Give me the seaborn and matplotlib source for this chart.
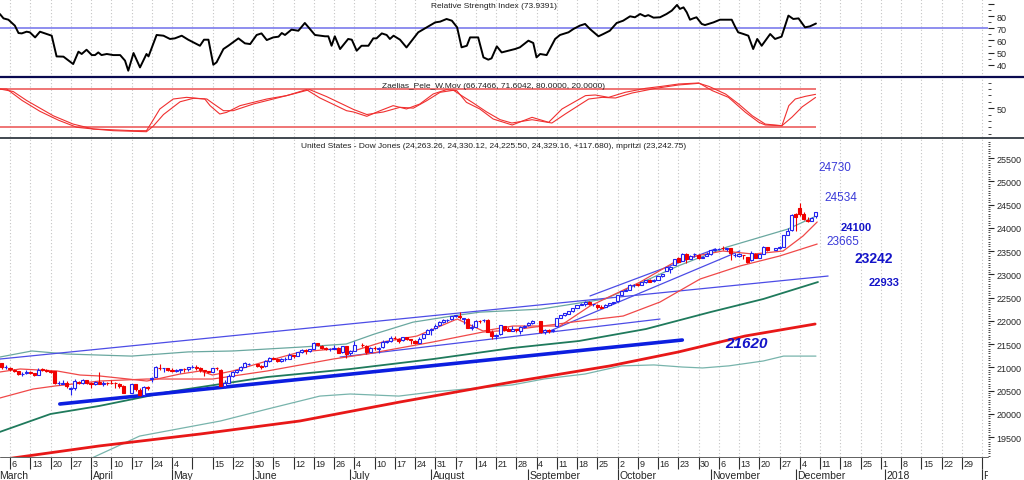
import numpy as np
import pandas as pd
import matplotlib
matplotlib.use("Agg")
import matplotlib.pyplot as plt
from matplotlib.lines import Line2D
import seaborn as sns

sns.set_style("white")
plt.rcParams['font.family'] = ['Liberation Sans', 'DejaVu Sans']

# ----------------- Data -----------------
# trading days Mar 1 - Dec 8 2017 (x = business-day count from Mon Mar 6)
holidays = ['2017-04-14', '2017-05-29', '2017-07-04', '2017-09-04', '2017-11-23']
dates = pd.bdate_range('2017-03-01', '2017-12-08')
dates = dates[~dates.isin(pd.to_datetime(holidays))]
day = np.busday_count(np.datetime64('2017-03-06'), dates.values.astype('datetime64[D]'))

opens = [21180, 21090, 20995,
         20990, 20940, 20920, 20850, 20880,
         20900, 20870, 20840, 20960, 20935,
         20915, 20910, 20660, 20650, 20660,
         20540, 20555, 20690, 20660, 20720,
         20660, 20640, 20690, 20645, 20660,
         20660, 20655, 20640, 20590,
         20455, 20630, 20520, 20405, 20580,
         20750, 20790, 20990, 20975, 20985,
         20945, 20915, 20945, 20960, 20955,
         21005, 21010, 20975, 20935, 20915,
         20900, 20985, 20950, 20600, 20665,
         20810, 20900, 20945, 21015, 21075,
         21070, 21030, 21020, 21140,
         21200, 21180, 21140, 21175, 21185,
         21260, 21245, 21335, 21380, 21355,
         21400, 21520, 21465, 21415, 21390,
         21400, 21415, 21320, 21450, 21300,
         21360, 21480, 21460, 21330,
         21410, 21400, 21430, 21540, 21560,
         21640, 21610, 21580, 21645, 21600,
         21570, 21530, 21620, 21720, 21800,
         21840, 21900, 21970, 22020, 22030,
         22100, 22110, 22040, 22040, 21850,
         21870, 22000, 22010, 22020, 21750,
         21670, 21710, 21890, 21815, 21790,
         21820, 21770, 21865, 21900, 21960,
         21990, 21760, 21810, 21790,
         21880, 22070, 22120, 22150, 22210,
         22280, 22340, 22370, 22410, 22350,
         22340, 22300, 22300, 22340, 22380,
         22420, 22560, 22650, 22670, 22760,
         22780, 22770, 22830, 22880, 22860,
         22880, 22960, 23070, 23110, 23200,
         23340, 23290, 23440, 23330, 23430,
         23420, 23350, 23400, 23440, 23520,
         23540, 23560, 23550, 23560, 23420,
         23400, 23420, 23380, 23300, 23440,
         23360, 23440, 23590, 23530,
         23560, 23590, 23850, 23950, 24300,
         24420, 24290, 24170, 24150, 24260]
highs = [21190, 21100, 21040,
         21000, 20960, 20930, 20900, 20940,
         20920, 20880, 20980, 20990, 20960,
         20940, 20930, 20700, 20730, 20700,
         20580, 20740, 20700, 20740, 20730,
         20690, 20700, 20890, 20700, 20690,
         20720, 20680, 20670, 20610,
         20650, 20640, 20560, 20600, 20590,
         20790, 21030, 21070, 20990, 20990,
         20980, 20960, 20960, 20990, 21010,
         21050, 21050, 21000, 20950, 20920,
         20990, 21000, 20960, 20720, 20860,
         20910, 20950, 21020, 21110, 21090,
         21080, 21040, 21150, 21230,
         21210, 21190, 21190, 21230, 21305,
         21270, 21330, 21390, 21385, 21390,
         21535, 21530, 21480, 21440, 21410,
         21480, 21430, 21460, 21460, 21370,
         21560, 21520, 21470, 21440,
         21460, 21430, 21580, 21570, 21680,
         21680, 21620, 21650, 21650, 21610,
         21580, 21650, 21720, 21830, 21840,
         21930, 21990, 22040, 22040, 22100,
         22130, 22180, 22060, 22050, 21920,
         22010, 22010, 22040, 22030, 21800,
         21710, 21910, 21890, 21870, 21880,
         21830, 21880, 21900, 21970, 22020,
         21990, 21830, 21820, 21830,
         22070, 22120, 22160, 22210, 22270,
         22340, 22380, 22420, 22420, 22370,
         22350, 22330, 22360, 22390, 22410,
         22560, 22650, 22690, 22780, 22780,
         22790, 22840, 22880, 22900, 22900,
         22960, 23000, 23160, 23170, 23330,
         23370, 23450, 23460, 23420, 23450,
         23430, 23400, 23480, 23530, 23560,
         23560, 23600, 23570, 23560, 23460,
         23450, 23420, 23380, 23490, 23450,
         23440, 23600, 23590, 23570,
         23610, 23840, 24000, 24300, 24320,
         24534, 24330, 24230, 24240, 24330]
lows = [21090, 20970, 20960,
        20930, 20900, 20840, 20820, 20860,
        20860, 20820, 20830, 20910, 20900,
        20880, 20650, 20610, 20630, 20560,
        20410, 20520, 20630, 20650, 20640,
        20550, 20620, 20630, 20590, 20610,
        20630, 20560, 20560, 20440,
        20450, 20480, 20380, 20380, 20520,
        20690, 20780, 20950, 20890, 20930,
        20890, 20900, 20880, 20900, 20930,
        20980, 20950, 20900, 20820, 20880,
        20890, 20950, 20600, 20550, 20660,
        20800, 20880, 20930, 21000, 21040,
        21000, 20960, 21010, 21120,
        21170, 21110, 21120, 21140, 21180,
        21200, 21240, 21300, 21290, 21330,
        21390, 21460, 21390, 21370, 21340,
        21390, 21300, 21310, 21200, 21270,
        21350, 21430, 21280, 21320,
        21380, 21310, 21420, 21520, 21550,
        21600, 21520, 21570, 21590, 21500,
        21500, 21520, 21610, 21710, 21700,
        21820, 21890, 21950, 21980, 22020,
        22080, 22040, 21920, 21840, 21800,
        21860, 21960, 21980, 21750, 21600,
        21600, 21700, 21780, 21770, 21780,
        21760, 21720, 21850, 21890, 21940,
        21730, 21720, 21740, 21760,
        21870, 22050, 22100, 22140, 22190,
        22270, 22330, 22320, 22330, 22320,
        22250, 22270, 22290, 22330, 22370,
        22410, 22550, 22630, 22660, 22720,
        22740, 22760, 22810, 22840, 22840,
        22870, 22950, 23060, 23020, 23190,
        23270, 23280, 23240, 23330, 23370,
        23330, 23340, 23390, 23420, 23500,
        23520, 23530, 23500, 23300, 23380,
        23380, 23320, 23240, 23290, 23350,
        23350, 23430, 23510, 23530,
        23540, 23580, 23850, 23940, 23920,
        24260, 24160, 24120, 24140, 24220]
closes = [21116, 21003, 21006,
          20954, 20924, 20855, 20858, 20903,
          20881, 20837, 20950, 20934, 20915,
          20906, 20669, 20661, 20656, 20597,
          20551, 20701, 20659, 20729, 20663,
          20650, 20689, 20648, 20663, 20656,
          20658, 20651, 20592, 20453,
          20637, 20523, 20404, 20579, 20548,
          20763, 20997, 20975, 20982, 20941,
          20913, 20950, 20957, 20952, 21007,
          21013, 20975, 20943, 20919, 20897,
          20982, 20980, 20607, 20663, 20805,
          20895, 20938, 21012, 21083, 21080,
          21029, 21009, 21144, 21206,
          21184, 21136, 21174, 21182, 21272,
          21236, 21328, 21375, 21360, 21384,
          21528, 21468, 21410, 21397, 21395,
          21410, 21311, 21454, 21288, 21350,
          21479, 21479, 21320, 21415,
          21409, 21409, 21533, 21554, 21638,
          21630, 21575, 21641, 21611, 21580,
          21513, 21613, 21711, 21797, 21830,
          21891, 21964, 22016, 22026, 22092,
          22118, 22085, 22049, 21844, 21858,
          21994, 21999, 22025, 21750, 21675,
          21704, 21899, 21812, 21783, 21814,
          21809, 21865, 21892, 21948, 21988,
          21754, 21807, 21784, 21798,
          22057, 22119, 22159, 22203, 22268,
          22331, 22370, 22412, 22359, 22350,
          22296, 22284, 22341, 22381, 22405,
          22557, 22642, 22661, 22775, 22774,
          22762, 22831, 22873, 22841, 22872,
          22957, 22997, 23158, 23163, 23329,
          23274, 23441, 23330, 23401, 23435,
          23349, 23377, 23436, 23517, 23539,
          23549, 23557, 23563, 23462, 23422,
          23440, 23409, 23272, 23458, 23358,
          23431, 23591, 23526, 23558,
          23580, 23836, 23940, 24272, 24232,
          24290, 24180, 24141, 24212, 24329]

# RSI line
rsi_day = [-2.5, -1.6, -0.4, 1.2, 2.1, 2.9, 4.1, 4.9, 6.2, 7.4, 8.6, 10.3, 11.5, 13.2, 15.6, 16.9,
           17.7, 18.9, 20.2, 21.0, 21.8, 22.6, 23.9, 25.5, 27.2, 28.4, 29.2, 30.5, 32.1, 33.7, 34.2,
           36.2, 37.9, 39.5, 40.7, 42.4, 44.0, 46.9, 47.9, 49.0, 50.2, 51.0, 52.7, 53.9, 56.4, 58.0,
           59.3, 60.9, 62.1, 63.4, 65.0, 66.3, 67.1, 67.9, 69.5, 71.2, 72.8, 73.7, 75.3, 77.8, 78.6,
           79.4, 80.2, 81.5, 83.5, 84.4, 85.6, 86.8, 88.5, 89.7, 90.5, 91.8, 93.0, 93.8, 94.7, 96.3,
           97.9, 99.2, 100.8, 102.5, 105.0, 106.2, 107.8, 109.1, 110.4, 111.5, 112.8, 113.6, 115.6,
           116.9, 118.1, 118.9, 120.2, 121.4, 123.0, 124.7, 125.9, 128.0, 129.2, 130.0, 130.9, 132.5,
           134.6, 135.8, 137.9, 139.1, 140.7, 142.0, 143.2, 145.3, 146.5, 148.1, 149.8, 151.4, 153.1,
           154.3, 155.6, 156.8, 157.6, 158.9, 160.5, 162.1, 163.4, 164.7, 165.4, 166.3, 167.1, 167.9,
           168.7, 169.5, 170.8, 171.6, 173.7, 175.3, 176.5, 178.2, 179.0, 179.8, 181.1, 182.3, 183.5,
           184.5, 185.6, 187.7, 188.9, 190.5, 192.2, 193.4, 194.7, 196.3, 197.5, 199.0]
rsi_val = [81.8, 78.2, 77.1, 72.2, 66.1, 65.8, 67.2, 66.7, 62.5, 67.2, 65.8, 63.9, 46.8, 46.6, 40.5, 50.7,
           48.8, 52.3, 47.9, 47.9, 50.1, 47.9, 48.8, 47.9, 47.9, 43.3, 35.0, 49.6, 37.7, 48.8, 46.8,
           64.5, 63.9, 61.2, 61.7, 63.9, 60.6, 55.6, 60.6, 60.6, 39.9, 41.9, 52.9, 55.6, 61.7, 57.6,
           57.0, 64.5, 65.8, 60.3, 62.5, 63.1, 66.1, 64.5, 68.9, 68.0, 74.4, 70.8, 64.5, 63.4, 63.4,
           55.6, 63.4, 52.9, 61.2, 60.6, 51.5, 55.6, 55.6, 61.7, 61.7, 65.8, 64.5, 61.2, 63.9, 60.6,
           54.2, 59.8, 66.7, 70.0, 74.9, 75.5, 77.7, 76.3, 70.8, 54.3, 55.6, 62.5, 62.5,
           46.0, 44.1, 45.2, 55.1, 50.1, 51.5, 52.9, 54.3, 59.8, 57.9, 46.0, 48.8, 47.9,
           61.2, 64.5, 66.7, 69.4, 72.2, 73.6, 69.4, 63.4, 65.3, 68.0, 74.4, 76.3, 79.9,
           79.1, 81.8, 79.9, 80.9, 78.8, 79.1, 81.8, 84.6, 89.3, 86.0, 87.3, 83.2, 77.1,
           78.2, 79.1, 73.6, 72.7, 74.9, 77.1, 77.1, 77.1, 71.6, 66.7, 65.3, 63.9, 52.9,
           61.2, 55.6, 65.3, 61.2, 63.1, 80.5, 77.7, 78.2, 70.8, 71.6, 73.94]

# stochastic (two lines)
stk_fast_day = [-2.5, -0.8, 3.0, 7.4, 12.0, 16.5, 20.6, 30.5, 33.7, 35.0, 37.0, 40.3, 43.6, 48.1, 49.4,
                51.8, 53.5, 56.8, 60.1, 63.4, 68.3, 73.2, 76.5, 79.8, 83.1, 84.8, 88.1, 91.4, 94.6,
                97.9, 101.2, 104.5, 107.8, 110.3, 112.7, 116.0, 119.3, 124.0, 128.9, 133.0, 136.3,
                142.1, 144.5, 147.8, 151.9, 156.9, 161.0, 165.1, 170.1, 173.4, 177.4, 181.6, 184.9,
                186.5, 190.6, 192.3, 193.9, 196.4, 198.9]
stk_fast_val = [80, 80, 62, 45, 31, 20, 17.3, 14.7, 14.7, 27.8, 48.7, 64.3, 66.9, 64.3, 53.9,
                40.8, 43.4, 53.9, 59.1, 64.3, 69.6, 79.0, 66, 56, 46, 44, 37.2, 46.0, 53.9,
                48.7, 56.5, 72.2, 79.0, 77.4, 59.1, 48.7, 33.0, 23.6, 35.6, 27.8, 48.7,
                69.6, 70.6, 66.9, 74.8, 81.0, 84.2, 87.8, 89.4, 77.4, 66.9, 43.4, 27.8,
                23.6, 22.5, 53.9, 64.3, 68.5, 71.6042]
stk_slow_day = [-2.5, 0.8, 4.1, 7.4, 10.7, 15.6, 20.6, 25.5, 33.7, 35.4, 37.9, 42.0, 45.3, 48.6, 50.2,
                52.7, 55.1, 60.1, 65.0, 69.9, 74.0, 78.2, 81.5, 84.8, 88.1, 92.2, 96.3, 99.6, 102.9,
                106.2, 109.5, 111.9, 114.4, 117.7, 121.0, 123.9, 128.9, 133.8, 137.1, 142.9, 146.2,
                149.5, 153.6, 159.4, 165.1, 170.1, 172.6, 176.7, 180.0, 183.3, 186.5, 190.6, 193.1,
                195.6, 198.9]
stk_slow_val = [80, 76, 62, 50, 38, 25, 17.3, 14.7, 13.1, 22, 40, 60, 65.4, 64.3, 57,
                46, 46.0, 56.5, 64.3, 72.2, 79.0, 68, 58, 48, 40, 44, 51.3, 50, 61.7,
                74.8, 78, 68, 58, 44, 32, 26.7, 31.9, 26.7, 40.8, 64.3, 66.9,
                65.9, 73.7, 81.0, 86.3, 88.9, 84, 72, 56, 38, 25, 22.5, 36,
                52, 66.7466]
stk_levels = [80, 20]

# moving averages / bands
ma_short_day = [-2.5, 2.5, 11.6, 17.3, 22.2, 33.8, 36.3, 42.0, 47.0, 50.0, 55.0, 63.5, 71.6, 79.8, 84.0,
                92.0, 100.5, 110.4, 116.8, 124.2, 135.8, 143.2, 155.6, 165.4, 176.0, 183.5, 190.9, 195.8, 199.3]
ma_short_val = [20898, 20963, 20920, 20833, 20812, 20704, 20747, 20855, 20920, 20833, 20920, 21135, 21328,
                21392, 21328, 21543, 21672, 22038, 21780, 21887, 21887, 22317, 22833, 23328, 23500, 23435,
                23500, 23822, 24124]
ma_mid_day = [-2.5, 5.7, 11.1, 22.2, 33.8, 50.0, 63.5, 79.8, 88.1, 104.4, 116.8, 124.0, 139.0, 151.4,
              160.5, 170.4, 180.2, 190.0, 199.3]
ma_mid_val = [20339, 20532, 20597, 20704, 20747, 20747, 20920, 21177, 21285, 21543, 21758, 21801, 21973,
              22102, 22403, 22898, 23177, 23392, 23650]
ma_green_day = [-2.5, 10, 22, 39, 63.5, 84, 104.5, 124, 140.5, 157, 173, 186, 199.5]
ma_green_val = [19610, 19995, 20167, 20468, 20790, 20962, 21177, 21414, 21565, 21822, 22188, 22468, 22833]
ma_long_day = [-2.5, 22, 47, 71.6, 96.3, 124, 148, 165, 181.5, 198.8]
ma_long_val = [19010, 19307, 19565, 19845, 20253, 20683, 21027, 21328, 21672, 21930]
band_up_day = [-2.5, 5.4, 14, 30, 44, 55, 72, 83, 90, 99.5, 109, 116, 131, 147, 165, 177, 192, 199]
band_up_val = [21220, 21350, 21285, 21240, 21330, 21350, 21435, 21500, 21715, 21970, 22100, 22185,
               22250, 22470, 23180, 23585, 23970, 24250]
band_low_day = [19, 32, 52, 63.5, 76.5, 84, 96, 104.5, 124, 132, 142, 151, 159, 166, 171, 177.5, 186, 191, 199]
band_low_val = [19000, 19520, 19845, 20100, 20380, 20425, 20380, 20470, 20620, 20750, 20855, 21030,
                21050, 21005, 20985, 21030, 21135, 21240, 21240]

# trendlines (two end points each)
chan_up = ([-2.5, 202], [21177, 22962])
chan_low = ([81.5, 160.5], [21220, 22037])
steep_a = ([133.3, 180.2], [21780, 23500])
steep_b = ([143.2, 174.1], [22533, 23543])
thick_trend = ([12.3, 166], [20210, 21586])

# level labels on the right
levels = [('24730', 199.5, 25306, 'normal', 8.5), ('24534', 201.2, 24661, 'normal', 8.5),
          ('24100', 205.0, 24027, 'bold', 8), ('23665', 201.7, 23726, 'normal', 8.5),
          ('23242', 208.4, 23360, 'bold', 10), ('22933', 212.1, 22823, 'bold', 8)]

week_labels = ['6', '13', '20', '27', '3', '10', '17', '24', '4', '', '15', '22', '30', '5', '12', '19',
               '26', '4', '10', '17', '24', '31', '7', '14', '21', '28', '4', '11', '18', '25', '2', '9',
               '16', '23', '30', '6', '13', '20', '27', '4', '11', '18', '25', '1', '8', '15', '22', '29', '']
month_day = [-3, 20, 40, 60, 84, 104, 128, 150, 173, 194, 216, 240]
month_labels = ['March', 'April', 'May', 'June', 'July', 'August', 'September', 'October',
                'November', 'December', '2018', 'February']

# ----------------- Layout -----------------
W, H = 1024, 481
XMIN, XMAX = -10 / 4.05, (988 - 10) / 4.05
AXW = 988 / W
week_pos = np.arange(len(week_labels)) * 5
grid_kw = dict(color='#c4c4c4', linestyle=(0, (1, 2)), linewidth=0.8)

fig = plt.figure(figsize=(W / 100, H / 100), dpi=100)


def panel(top, bottom):
    ax = fig.add_axes([0, 1 - bottom / H, AXW, (bottom - top) / H])
    ax.set_xlim(XMIN, XMAX)
    ax.set_xticks(week_pos)
    ax.tick_params(axis='x', length=0, labelbottom=False)
    ax.grid(True, axis='x', **grid_kw)
    ax.set_axisbelow(True)
    for s in ax.spines.values():
        s.set_visible(False)
    ax.yaxis.tick_right()
    ax.tick_params(axis='y', which='major', length=4, width=0.8, pad=2, labelsize=6.5, direction='out')
    ax.tick_params(axis='y', which='minor', length=2, width=0.6, direction='out')
    return ax


# RSI
ax_rsi = panel(0, 78)
ax_rsi.axhline(70, color='#7c7cec', lw=1.2)
sns.lineplot(x=rsi_day, y=rsi_val, ax=ax_rsi, color='black', linewidth=1.4)
ax_rsi.set_ylim(29.8, 94.2)
ax_rsi.set_yticks([40, 50, 60, 70, 80, 90])
ax_rsi.set_yticklabels(['40', '50', '60', '70', '80', ''])
ax_rsi.set_yticks([45, 55, 65, 75, 85], minor=True)
ax_rsi.set_xlabel('')
ax_rsi.set_ylabel('')

# stochastic
ax_st = panel(79, 138)
ax_st.hlines(stk_levels, XMIN, 199, color='#ee6a6a', lw=1.3)
sns.lineplot(x=stk_fast_day, y=stk_fast_val, ax=ax_st, color='#f03030', linewidth=0.8)
sns.lineplot(x=stk_slow_day, y=stk_slow_val, ax=ax_st, color='#f03030', linewidth=0.8)
ax_st.set_ylim(4.8, 97.2)
ax_st.set_yticks([50])
ax_st.set_yticks([10, 20, 30, 40, 60, 70, 80, 90], minor=True)
ax_st.set_xlabel('')
ax_st.set_ylabel('')

# price
ax = panel(140, 458)
ax.set_ylim(19070, 25909)
ax.set_yticks(np.arange(19500, 25501, 500))
ax.set_yticks(np.arange(19100, 25900, 50), minor=True)
ax.tick_params(axis='y', which='minor', length=1.5)

sns.lineplot(x=band_low_day, y=band_low_val, ax=ax, color='#78b4ac', linewidth=0.9)
sns.lineplot(x=ma_long_day, y=ma_long_val, ax=ax, color='#e81818', linewidth=2.0)
sns.lineplot(x=ma_green_day, y=ma_green_val, ax=ax, color='#1f7a5c', linewidth=1.3)
sns.lineplot(x=thick_trend[0], y=thick_trend[1], ax=ax, color='#0c1ee0', linewidth=2.6)
sns.lineplot(x=band_up_day, y=band_up_val, ax=ax, color='#6aa8a0', linewidth=0.9)
for line in (chan_up, chan_low, steep_a, steep_b):
    sns.lineplot(x=line[0], y=line[1], ax=ax, color='#4c4ce6', linewidth=0.9)
sns.lineplot(x=ma_mid_day, y=ma_mid_val, ax=ax, color='#f04848', linewidth=0.9)
sns.lineplot(x=ma_short_day, y=ma_short_val, ax=ax, color='#f04848', linewidth=0.9)

# candles
o = np.array(opens, float)
c = np.array(closes, float)
hi = np.array(highs, float)
lo = np.array(lows, float)
up = c >= o
blue, red = '#2222f0', '#f00000'
ax.vlines(day, lo, hi, colors=np.where(up, blue, red), lw=0.8, zorder=4)
body_lo = np.minimum(o, c)
body_h = np.abs(c - o)
ax.bar(day[up], body_h[up], bottom=body_lo[up], width=0.75, facecolor='white',
       edgecolor=blue, linewidth=0.8, zorder=5)
ax.bar(day[~up], body_h[~up], bottom=body_lo[~up], width=0.75, facecolor=red,
       edgecolor=red, linewidth=0.8, zorder=5)

for txt, xd, yv, wt, fs in levels:
    ax.text(xd, yv, txt, color='#3a3ad8' if wt == 'normal' else '#1414c8', fontsize=fs,
            fontweight=wt, ha='left', va='center')
ax.text(176.5, 21532, '21620', color='#1414c8', fontsize=11, fontweight='bold',
        fontstyle='italic', ha='left', va='center')
ax.set_xlabel('')
ax.set_ylabel('')

# date strip
ax_d = fig.add_axes([0, 0, AXW, 23 / H])
ax_d.set_xlim(XMIN, XMAX)
ax_d.set_ylim(0, 2)
ax_d.axis('off')
ax_d.vlines(week_pos, 1, 2, color='#303030', lw=0.8)
ax_d.vlines(month_day, 0, 1, color='#303030', lw=0.8)
for p, lab in zip(week_pos, week_labels):
    ax_d.text(p + 0.4, 1.45, lab, fontsize=6.5, ha='left', va='center', clip_on=True)
for p, lab in zip(month_day, month_labels):
    ax_d.text(p + 0.4, 0.45, lab, fontsize=7.5, ha='left', va='center', clip_on=True)

# divider lines and titles
fig.add_artist(Line2D([0, 1], [1 - 78 / H] * 2, transform=fig.transFigure, color='#0a0a50', lw=1.6))
fig.add_artist(Line2D([0, 1], [1 - 139 / H] * 2, transform=fig.transFigure, color='#404850', lw=1.4))
fig.add_artist(Line2D([0, AXW], [1 - 458 / H] * 2, transform=fig.transFigure, color='#606060', lw=0.7))

title_kw = dict(fontsize=6, ha='center', va='center', color='#202020')
fig.text(494 / W, 1 - 7 / H, 'Relative Strength Index (73.9391)', **title_kw)
fig.text(494 / W, 1 - 86 / H, 'Zaelias_Pele_W.Mov (66.7466, 71.6042, 80.0000, 20.0000)', **title_kw)
fig.text(494 / W, 1 - 147 / H,
         'United States - Dow Jones (24,263.26, 24,330.12, 24,225.50, 24,329.16, +117.680), mpritzi (23,242.75)',
         **title_kw)

fig.savefig('out.png', dpi=100)
